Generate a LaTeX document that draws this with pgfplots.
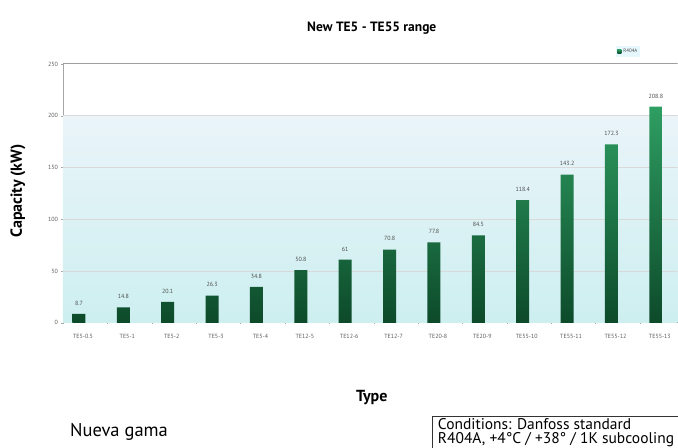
\documentclass[border=0pt]{standalone}
\usepackage{fontspec}
\setmainfont{PT Sans}
\usepackage{pgfplots}
\pgfplotsset{compat=1.18}
\definecolor{barTop}{HTML}{2E9E62}
\definecolor{barMid}{HTML}{22804B}
\definecolor{barBot}{HTML}{0D4A2A}
\definecolor{bgTop}{HTML}{EAF4F9}
\definecolor{bgBot}{HTML}{CDEFF0}
\begin{document}
\begin{tikzpicture}[x=1pt,y=1pt]
\path (0,0) rectangle (678,448);
\begin{axis}[
  scale only axis,
  width=615pt, height=259pt,
  at={(63pt,125pt)}, anchor=south west,
  xmin=-0.36, xmax=13.49, ymin=0, ymax=250,
  /pgf/number format/assume math mode=true,
  axis lines=left,
  axis line style={-, gray!70, line width=0.8pt},
  ytick={0,50,...,250},
  xtick={0,...,13},
  xticklabels={TE5-0.5,TE5-1,TE5-2,TE5-3,TE5-4,TE12-5,TE12-6,TE12-7,TE20-8,TE20-9,TE55-10,TE55-11,TE55-12,TE55-13},
  major x tick style={draw=none},
  minor xtick={-0.36,0.64,...,13.64},
  minor x tick style={gray!70},
  minor tick length=3pt,
  major tick length=3pt,
  y tick style={gray!70},
  ticklabel style={font=\fontsize{6}{7}\selectfont, text=black!65},
  x tick label style={xshift=4pt, yshift=-6pt},
  legend style={at={(0.9,1.025)}, anchor=south west, fill=cyan!10, draw=none,
    font=\fontsize{5}{6}\selectfont, text=black!70, inner sep=1pt},
  legend image code/.code={\fill[barTop] (0pt,-1.5pt) rectangle (4pt,2.5pt);},
]
\fill[top color=bgTop, bottom color=bgBot] (axis cs:-0.36,0) rectangle (axis cs:13.49,200);
\draw[gray!30, line width=0.6pt] (axis cs:-0.36,50) -- (axis cs:13.49,50);
\draw[gray!30, line width=0.6pt] (axis cs:-0.36,100) -- (axis cs:13.49,100);
\draw[gray!30, line width=0.6pt] (axis cs:-0.36,150) -- (axis cs:13.49,150);
\draw[gray!30, line width=0.6pt] (axis cs:-0.36,200) -- (axis cs:13.49,200);
\addplot[ybar, bar width=13pt, draw=none, top color=barTop, middle color=barMid, bottom color=barBot,
  nodes near coords,
  every node near coord/.append style={font=\fontsize{6}{7}\selectfont, text=black!70, yshift=5pt}]
  coordinates {(0,8.7) (1,14.8) (2,20.1) (3,26.3) (4,34.8) (5,50.8) (6,61) (7,70.8) (8,77.8) (9,84.5) (10,118.4) (11,143.2) (12,172.3) (13,208.8)};
\addlegendentry{R404A}
\draw[gray!75, line width=1pt] (axis cs:-0.36,250) -- (axis cs:13.49,250);
\end{axis}
\node[font=\bfseries\fontsize{13.5}{15}\selectfont] at (372,420) {New TE5 - TE55 range};
\node[font=\bfseries\fontsize{16}{18}\selectfont, rotate=90] at (18,257) {Capacity (kW)};
\node[font=\bfseries\fontsize{16}{18}\selectfont] at (372,50) {Type};
\node[font=\fontsize{18.5}{20}\selectfont, anchor=west, inner sep=0pt] at (70,16) {Nueva gama};
\begin{scope}[overlay]
\draw[black!80, line width=0.8pt] (760,31) -- (433,31) -- (433,-10);
\node[font=\fontsize{15.5}{14.5}\selectfont, anchor=north west, align=left, inner sep=0pt] at (438,29.5) {Conditions: Danfoss standard\\R404A, +4°C / +38° / 1K subcooling};
\end{scope}
\end{tikzpicture}
\end{document}
